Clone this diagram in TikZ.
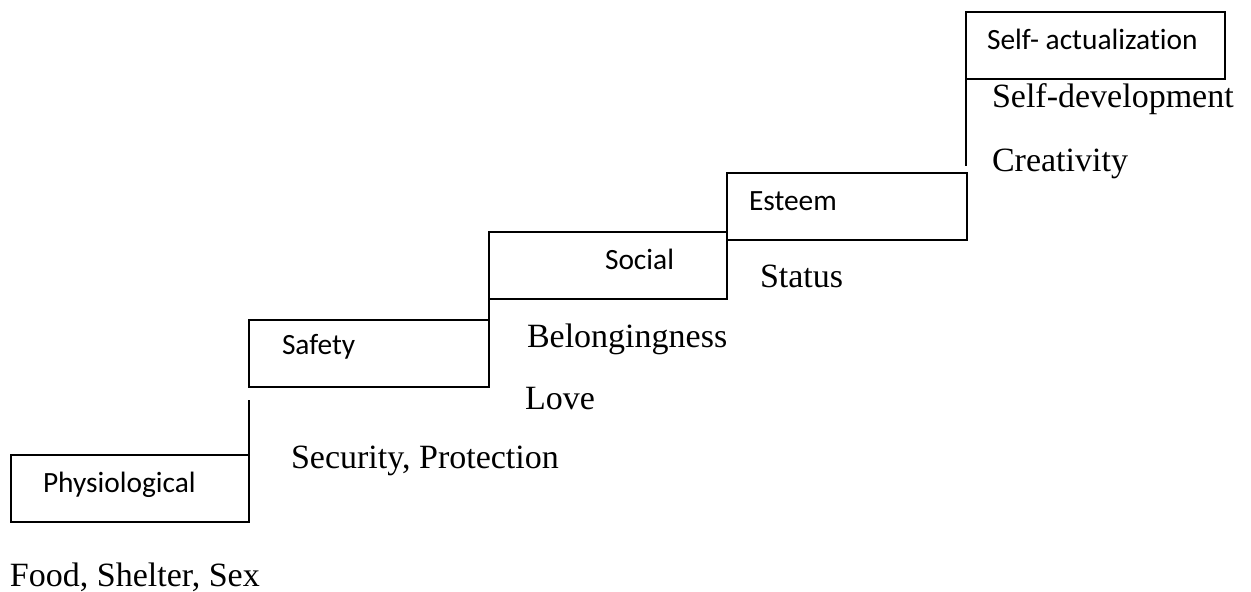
\documentclass[tikz,border=0pt]{standalone}
\usepackage{fontspec}
\setmainfont{Liberation Serif}
\newfontfamily\boxfont[Ligatures=NoCommon]{Carlito}
\usepackage{tikz}
\usetikzlibrary{positioning}
\usetikzlibrary{calc}
\tikzset{every picture/.style={line width=1pt}}

\begin{document}
\begin{tikzpicture}[x=0.5pt, y=-0.5pt, every node/.style={inner sep=0pt, outer sep=0pt}]
\useasboundingbox (0,0) rectangle (1251,592);
% the steps
\foreach \n/\x/\y/\w in {phys/130/488/238, safe/369/353.5/240, soc/608/265.5/238, est/847/206.5/240, self/1095.5/45.5/259} {
\node (\n) at (\x,\y) [minimum width=\w*0.5pt, minimum height=33.5pt, draw] {};
}
\foreach \n/\x/\y/\t in {physt/43/492/Physiological, safet/282/355/Safety, soct/605/270/Social, estt/749/211/Esteem, selft/987/50/Self- actualization} {
\node (\n) at (\x,\y) [anchor=base west] {\boxfont\fontsize{14.7}{17}\selectfont \t};
}
% the needs under each step
\foreach \n/\x/\y/\t in {food/10/586/{Food, Shelter, Sex}, secur/291/468/{Security, Protection}, love/525/409/Love, belong/527/348/Belongingness, status/760/288/Status, dev/992/108/Self-development, creat/992/172/Creativity} {
\node (\n) at (\x,\y) [anchor=base west] {\fontsize{17}{20}\selectfont \t};
}
\coordinate (g1) at (249,400);
\coordinate (g2) at (966,166);
\draw (phys.north east) -- (phys.north east |- g1);
\draw (soc.south west) -- (safe.north east);
\draw (self.south west) -- (self.south west |- g2);
\end{tikzpicture}
\end{document}
